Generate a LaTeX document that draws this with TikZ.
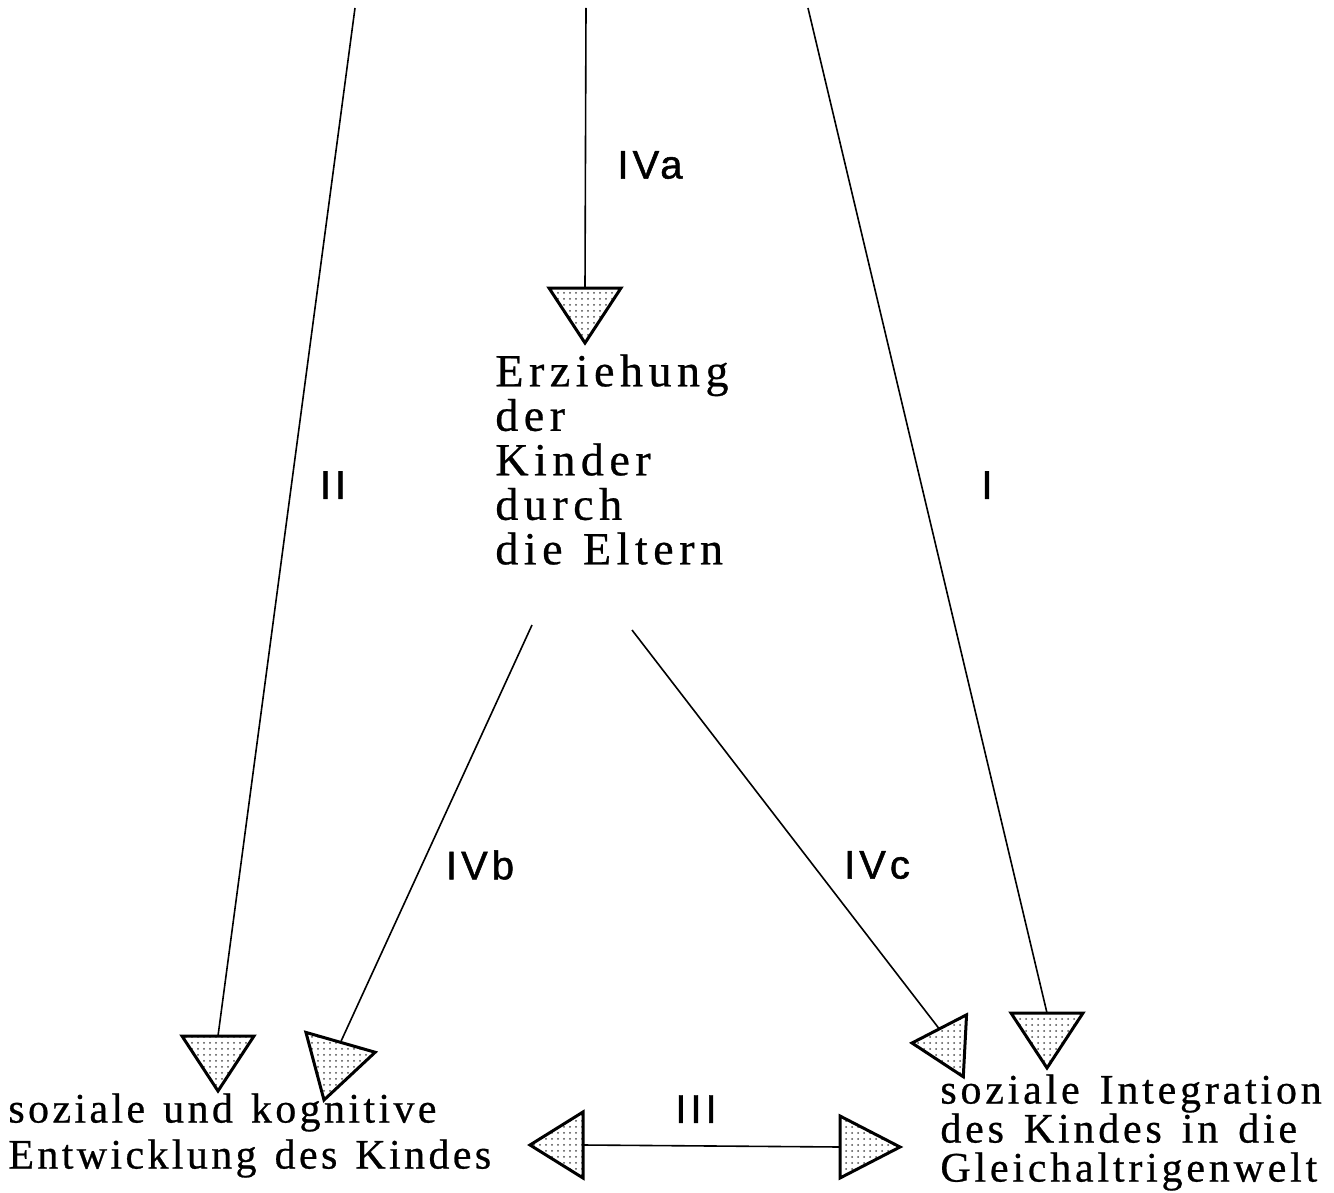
\documentclass[tikz,border=0pt]{standalone}
\usepackage{fontspec}
\setmainfont{Liberation Serif}[LetterSpace=8,WordSpace=1.3,FakeBold=0.6]
\setsansfont{Liberation Sans}[LetterSpace=10,FakeBold=1.2]
\newfontfamily\midfont{Liberation Serif}[LetterSpace=12,WordSpace=1.2,FakeBold=0.6]
\newfontfamily\rightfont{Liberation Serif}[LetterSpace=9,WordSpace=1.4,FakeBold=0.6]
\usetikzlibrary{shapes.geometric,patterns,calc}

\begin{document}
\begin{tikzpicture}[x=0.5pt,y=-0.5pt,
  tri/.style={draw,line width=1.5pt,isosceles triangle,isosceles triangle stretches,
    inner sep=0pt,outer sep=0pt,anchor=apex,pattern=dots,pattern color=black!70,
    minimum width=36pt,minimum height=27.5pt},
  lbl/.style={font=\sffamily\fontsize{20}{20}\selectfont,inner sep=0pt},
  txt/.style={align=left,anchor=north west,inner sep=0pt},
  link/.style={line width=0.8pt}]
\useasboundingbox (0,0) rectangle (1334,1193);

% free ends at the top and below the middle text
\coordinate (topII) at (355,8);
\coordinate (topIVa) at (586,8);
\coordinate (topI) at (808,8);
\coordinate (startb) at (532,625);
\coordinate (startc) at (632,630);

% arrowheads
\node[tri,rotate=-90] (tIVa) at (585,343) {};
\node[tri,rotate=-90] (tII) at (218,1091) {};
\node[tri,rotate=-90] (tI) at (1047,1068) {};
\node[tri,rotate=-106,minimum height=30pt] (tIVb) at (324,1100) {};
\node[tri,rotate=177,minimum width=31pt,minimum height=26.5pt] (tIVc) at (912,1043) {};
\node[tri,rotate=180,minimum width=33pt,minimum height=26.5pt] (tIIIl) at (530,1145) {};
\node[tri,rotate=0,minimum width=31pt,minimum height=30pt] (tIIIr) at (900,1147) {};

% texts
\node[txt,font=\midfont\fontsize{23}{22.25}\selectfont] (erz) at (495,354)
  {Erziehung\\der\\Kinder\\durch\\die Eltern};
\node[txt,font=\fontsize{21}{23}\selectfont] (entw) at (8,1093)
  {soziale und kognitive\\Entwicklung des Kindes};
\node[txt,font=\rightfont\fontsize{21}{19.5}\selectfont] (integ) at (940,1074)
  {soziale Integration\\des Kindes in die\\Gleichaltrigenwelt};

% connectors
\draw[link] (topII) -- (tII.lower side);
\draw[link] (topIVa) -- (tIVa.lower side);
\draw[link] (topI) -- (tI.lower side);
\draw[link] (startb) -- (tIVb.lower side);
\draw[link] (startc) -- ($(tIVc.apex)!.5!(tIVc.right corner)$);
\draw[link] (tIIIl.lower side) -- (tIIIr.lower side);

% labels
\node[lbl] (lIVa) at (650,165) {IVa};
\node[lbl] (lII) at (333,485) {II};
\node[lbl] (lI) at (987,485) {I};
\node[lbl] (lIVb) at (480,865) {IVb};
\node[lbl] (lIVc) at (877,865) {IVc};
\node[lbl] (lIII) at (696,1109) {III};
\end{tikzpicture}
\end{document}
